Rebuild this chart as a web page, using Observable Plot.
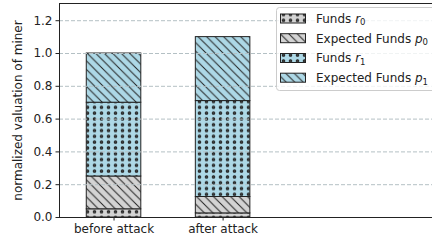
<!DOCTYPE html>
<html>
<head>
<meta charset="utf-8">
<script src="https://cdn.jsdelivr.net/npm/d3@7"></script>
<script src="https://cdn.jsdelivr.net/npm/@observablehq/plot@0.6"></script>
<style>
  html, body { margin: 0; padding: 0; background: white; }
</style>
</head>
<body>
<div id="chart"></div>
<script>
const categories = ["before attack", "after attack"];
const seriesNames = ["Funds r0", "Expected Funds p0", "Funds r1", "Expected Funds p1"];
const seriesBase = ["Funds ", "Expected Funds ", "Funds ", "Expected Funds "];
const seriesSym = ["r", "p", "r", "p"];
const seriesSub = ["0", "0", "1", "1"];
const r0 = [0.05, 0.025];
const p0 = [0.20, 0.10];
const r1 = [0.45, 0.585];
const p1 = [0.30, 0.39];
const yTicks = [0, 0.2, 0.4, 0.6, 0.8, 1.0, 1.2];
const gridTicks = [0.2, 0.4, 0.6, 0.8, 1.0, 1.2];

const patIds = ["pat-r0", "pat-p0", "pat-r1", "pat-p1"];
const values = [r0, p0, r1, p1];

// build stacked rows
const rows = [];
categories.forEach((c, i) => {
  let acc = 0;
  values.forEach((arr, s) => {
    rows.push({idx: i, cat: c, series: seriesNames[s], y1: acc, y2: acc + arr[i], pat: patIds[s]});
    acc += arr[i];
  });
});

const chart = Plot.plot({
  width: 432,
  height: 245,
  marginLeft: 59,
  marginRight: 0,
  marginTop: 3,
  marginBottom: 28,
  style: {fontFamily: "DejaVu Sans", fontSize: "12px", background: "white", color: "#222"},
  x: {domain: [-0.5, 2.92], axis: null},
  y: {domain: [0, 1.305], axis: null},
  color: {type: "identity"},
  marks: [
    Plot.rect(rows, {x1: d => d.idx - 0.25, x2: d => d.idx + 0.25, y1: "y1", y2: "y2",
      fill: d => `url(#${d.pat})`, stroke: "#222", strokeWidth: 1}),
    Plot.ruleY(gridTicks, {stroke: "#b4c0c4", strokeDasharray: "4,2", strokeWidth: 1}),
    Plot.axisY({ticks: yTicks, tickFormat: d3.format(".1f"), tickSize: 3.5, tickPadding: 3.5,
      label: "normalized valuation of miner", labelAnchor: "center", labelArrow: "none", labelOffset: 46,
      fontSize: 12}),
    Plot.axisX({ticks: [0, 1], tickFormat: i => categories[i], tickSize: 3.5, tickPadding: 3.5,
      label: null, fontSize: 12}),
    Plot.ruleX([-0.5], {stroke: "#222"}),
    Plot.ruleY([0], {stroke: "#222"}),
    Plot.ruleY([1.305], {stroke: "#222"})
  ]
});

document.getElementById("chart").appendChild(chart);

// patterns
const svg = d3.select(chart);
const defs = svg.insert("defs", ":first-child");
const grey = "#d3d3d3", blue = "#add8e6", ink = "#222";
function dots(id, bg) {
  const p = defs.append("pattern").attr("id", id).attr("patternUnits", "userSpaceOnUse")
    .attr("width", 7).attr("height", 5.8);
  p.append("rect").attr("width", 7).attr("height", 5.8).attr("fill", bg);
  p.append("circle").attr("cx", 3.5).attr("cy", 2.9).attr("r", 1.3)
    .attr("fill", "#444").attr("stroke", ink).attr("stroke-width", 1);
}
function diag(id, bg) {
  const w = 8.5;
  const p = defs.append("pattern").attr("id", id).attr("patternUnits", "userSpaceOnUse")
    .attr("width", w).attr("height", w);
  p.append("rect").attr("width", w).attr("height", w).attr("fill", bg);
  p.append("path").attr("d", `M0,0L${w},${w}M${-w/2},${w/2}L${w/2},${w*1.5}M${w/2},${-w/2}L${w*1.5},${w/2}`)
    .attr("stroke", ink).attr("stroke-width", 1);
}
dots("pat-r0", grey);
diag("pat-p0", grey);
dots("pat-r1", blue);
diag("pat-p1", blue);

// legend
const lg = svg.append("g").attr("font-family", "DejaVu Sans").attr("font-size", 12).attr("fill", "#222")
  .attr("text-anchor", "start");
lg.append("rect").attr("x", 276.5).attr("y", 7.5).attr("width", 170).attr("height", 83).attr("rx", 3)
  .attr("fill", "white").attr("fill-opacity", 0.8).attr("stroke", "#ccc");
const rowY = [18.5, 38.2, 58.0, 77.7];
seriesNames.forEach((s, k) => {
  lg.append("rect").attr("x", 280.5).attr("y", rowY[k] - 4.5).attr("width", 25).attr("height", 9)
    .attr("fill", `url(#${patIds[k]})`).attr("stroke", "#222");
  const t = lg.append("text").attr("x", 316).attr("y", rowY[k] + 4.3).attr("text-anchor", "start");
  t.append("tspan").text(seriesBase[k]);
  t.append("tspan").attr("font-style", "italic").text(seriesSym[k]);
  t.append("tspan").attr("font-size", 8.5).attr("dy", 2.5).text(seriesSub[k]);
});
</script>
</body>
</html>
